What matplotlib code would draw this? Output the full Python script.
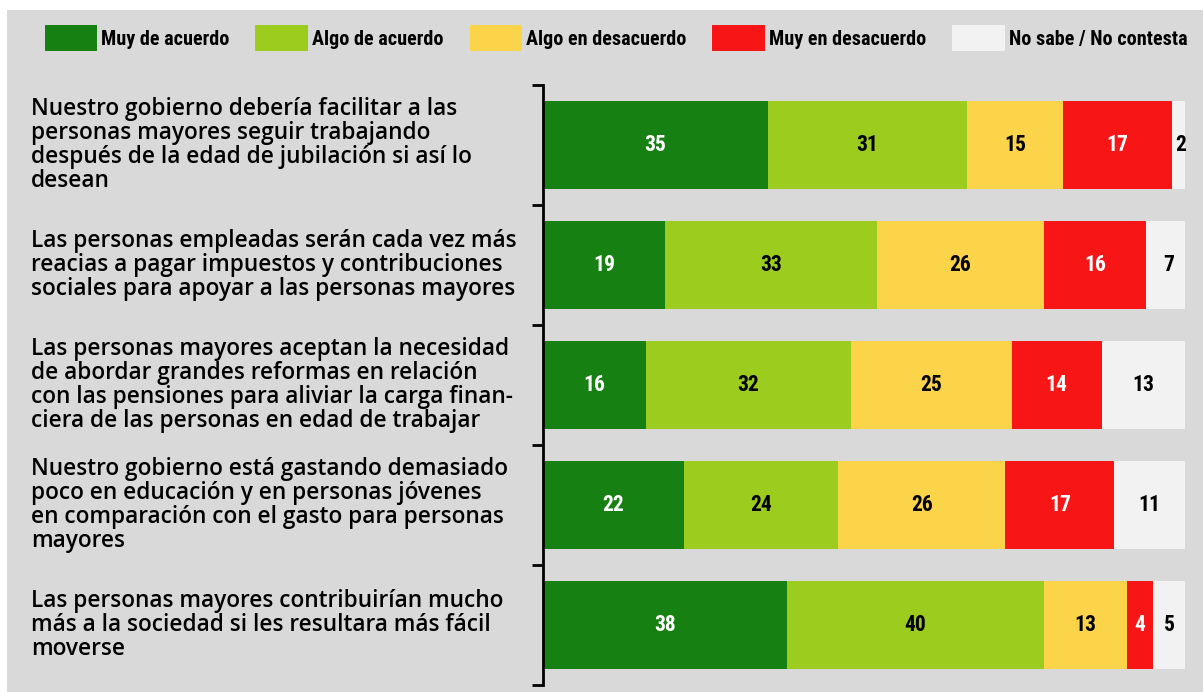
import numpy as np
import matplotlib
matplotlib.use('Agg')
import matplotlib.pyplot as plt
from matplotlib.patches import Rectangle
from matplotlib.transforms import blended_transform_factory

categories = [
    'Nuestro gobierno debería facilitar a las\npersonas mayores seguir trabajando\ndespués de la edad de jubilación si así lo\ndesean',
    'Las personas empleadas serán cada vez más\nreacias a pagar impuestos y contribuciones\nsociales para apoyar a las personas mayores',
    'Las personas mayores aceptan la necesidad\nde abordar grandes reformas en relación\ncon las pensiones para aliviar la carga finan-\nciera de las personas en edad de trabajar',
    'Nuestro gobierno está gastando demasiado\npoco en educación y en personas jóvenes\nen comparación con el gasto para personas\nmayores',
    'Las personas mayores contribuirían mucho\nmás a la sociedad si les resultara más fácil\nmoverse',
]
series = ['Muy de acuerdo', 'Algo de acuerdo', 'Algo en desacuerdo',
          'Muy en desacuerdo', 'No sabe / No contesta']
muy_acuerdo = [35, 19, 16, 22, 38]
algo_acuerdo = [31, 33, 32, 24, 40]
algo_desacuerdo = [15, 26, 25, 26, 13]
muy_desacuerdo = [17, 16, 14, 17, 4]
no_sabe = [2, 7, 13, 11, 5]

colors = ['#168112', '#9ccc1e', '#fcd44a', '#f71515', '#f2f2f2']
txtcol = ['white', 'black', 'black', 'white', 'black']
bg = '#d9d9d9'
narrow = ['Roboto Condensed', 'Saira SemiCondensed', 'DejaVu Sans']
labelfont = ['Open Sans', 'DejaVu Sans']

fig = plt.figure(figsize=(12.03, 6.92), dpi=100)
fig.patch.set_facecolor('white')
fig.patches.append(Rectangle((7/1203, 0), 1, 682/692, transform=fig.transFigure,
                             facecolor=bg, edgecolor='none', zorder=-10))

ax = fig.add_axes([543/1203, 7/692, 642/1203, 600/692])
ax.set_facecolor('none')

data = [muy_acuerdo, algo_acuerdo, algo_desacuerdo, muy_desacuerdo, no_sabe]
y = np.arange(len(categories))
left = np.zeros(len(categories))
handles = []
for vals, c, tc, name in zip(data, colors, txtcol, series):
    vals = np.array(vals)
    bars = ax.barh(y, vals, left=left, height=0.73, color=c, label=name)
    handles.append(bars)
    for yi, v, l in zip(y, vals, left):
        xc = l + v / 2
        if name == 'No sabe / No contesta' and v < 4:
            xc = l + v / 2 + 0.4
        ax.text(xc, yi, str(v), ha='center', va='center', color=tc,
                fontsize=15.5, fontweight='bold', family=narrow)
    left += vals

ax.set_xlim(0, 100)
ax.set_ylim(4.5, -0.5)
ax.set_xticks([])
ax.set_yticks(np.arange(-0.5, 5, 1))
ax.set_yticklabels([])
ax.tick_params(axis='y', direction='out', length=8, width=2)
for s in ['top', 'right', 'bottom']:
    ax.spines[s].set_visible(False)
ax.spines['left'].set_linewidth(2)

trans = blended_transform_factory(fig.transFigure, ax.transData)
for yi, cat in zip(y, categories):
    fig.text(31/1203, yi, cat, ha='left', va='center', fontsize=16.3,
             fontweight='semibold', family=labelfont, linespacing=1.0,
             transform=trans)

# legend
leg = fig.legend(handles, series, loc='center', bbox_to_anchor=(0.512, 1 - 38/692),
                 ncol=5, frameon=False, handlelength=2.6, handleheight=1.6,
                 handletextpad=0.2, columnspacing=1.3,
                 prop={'family': narrow, 'weight': 'bold', 'size': 14.5})

fig.savefig('out.png', dpi=100, facecolor=fig.get_facecolor())
